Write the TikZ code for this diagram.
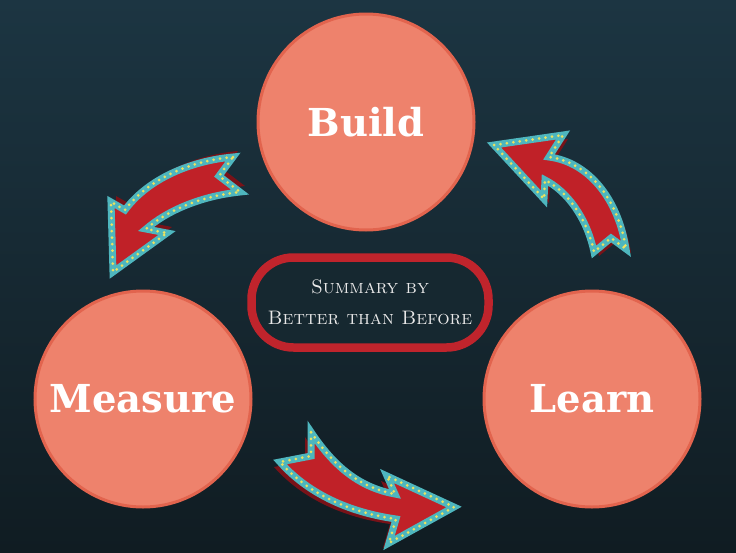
\documentclass[tikz,border=0pt]{standalone}
\usepackage{fontspec}
\newfontfamily\slabfont{DejaVu Serif}
\definecolor{bgtop}{RGB}{28,53,66}
\definecolor{bgbot}{RGB}{16,28,34}
\definecolor{salmonfill}{RGB}{238,130,108}
\definecolor{salmonedge}{RGB}{226,100,78}
\definecolor{pillred}{RGB}{192,36,44}
\definecolor{pillfill}{RGB}{22,40,48}
\definecolor{arrowred}{RGB}{192,33,40}
\definecolor{shadowred}{RGB}{120,18,24}
\definecolor{rimteal}{RGB}{78,182,190}
\definecolor{dotyellow}{RGB}{236,226,96}
\definecolor{softwhite}{RGB}{232,232,232}
\def\arrowApath{(233,157) .. controls (190,161) and (148,179) .. (125,210) -- (111,202) -- (113,272) -- (167,233) -- (146,229) .. controls (168,210) and (202,196) .. (240,192) -- (219,176) -- cycle}
\def\arrowBpath{(494,145) -- (563,135) -- (549,157) .. controls (588,162) and (618,198) .. (626,249) -- (611,238) -- (594,252) .. controls (587,218) and (567,191) .. (545,180) -- (544,199) -- cycle}
\def\arrowCpath{(311,432) .. controls (331,462) and (356,487) .. (395,494) -- (387,476) -- (454,507) -- (389,543) -- (396,519) .. controls (340,511) and (303,488) .. (280,462) -- (311,456) -- cycle}
\begin{document}
\begin{tikzpicture}[x=1pt,y=-1pt,
  stage/.style={circle, fill=salmonfill, draw=salmonedge, line width=3pt,
    minimum size=216pt, inner sep=0pt, text=white,
    font=\slabfont\bfseries\fontsize{38.5}{40}\selectfont},
  summarybox/.style={rectangle, rounded corners=42pt, draw=pillred, fill=pillfill,
    line width=8.5pt, minimum width=237pt, minimum height=90pt, align=center,
    text=softwhite, font=\fontsize{19.5}{31}\selectfont\scshape},
  arrowshadow/.style={fill=shadowred},
  arrowrim/.style={draw=rimteal, fill=arrowred, line width=7pt, line join=miter},
  arrowdots/.style={draw=dotyellow, line width=3pt, line cap=round, dash pattern=on 0pt off 6.5pt}
]
\useasboundingbox (0,0) rectangle (736,552);
\shade[top color=bgtop, bottom color=bgbot] (0,0) rectangle (736,552);

\node[stage] (build) at (366,122) {Build};
\node[stage] (measure) at (143,399) {Measure};
\node[stage] (learn) at (592,399) {Learn};

\node[summarybox] (summary) at (370,302.5) {Summary by\\Better than Before};

% arrow Build -> Measure
\fill[arrowshadow, shift={(5,-6)}] \arrowApath;
\draw[arrowrim] \arrowApath;
\draw[arrowdots] \arrowApath;
% arrow Learn -> Build
\fill[arrowshadow, shift={(5,4)}] \arrowBpath;
\draw[arrowrim] \arrowBpath;
\draw[arrowdots] \arrowBpath;
% arrow Measure -> Learn
\fill[arrowshadow, shift={(-6,5)}] \arrowCpath;
\draw[arrowrim] \arrowCpath;
\draw[arrowdots] \arrowCpath;
\end{tikzpicture}
\end{document}
